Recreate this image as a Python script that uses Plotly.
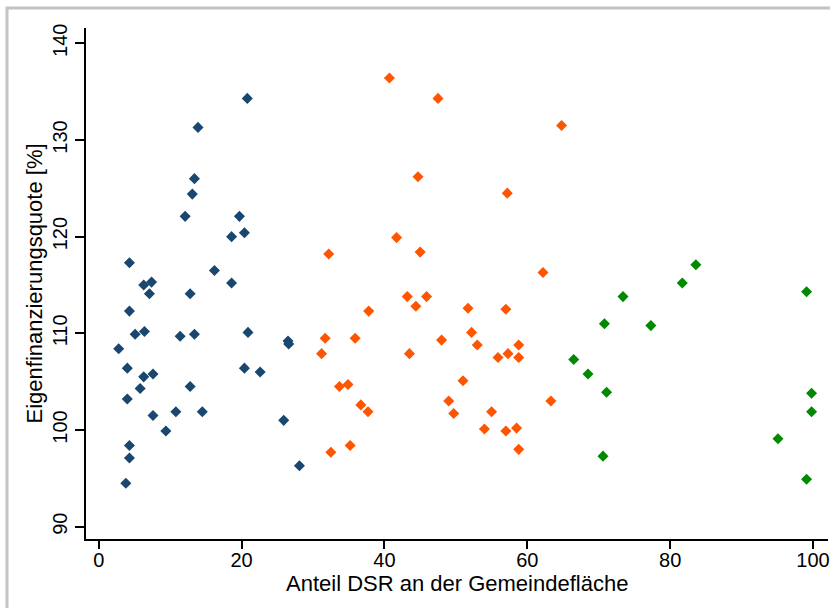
import plotly.graph_objects as go

# ---- data ----
blue_x = [20.8, 13.9, 13.4, 13.1, 12.1, 19.7, 18.6, 20.4, 4.3, 16.2, 6.3, 7.4, 18.6, 7.1, 12.8,
          4.3, 5.1, 6.4, 11.4, 13.4, 20.9, 26.5, 26.6, 2.8, 4.0, 20.4, 22.6, 6.3, 7.6, 5.8,
          12.8, 4.0, 7.6, 10.8, 14.5, 9.4, 25.9, 4.3, 4.3, 28.1, 3.8]
blue_y = [134.3, 131.3, 126.0, 124.4, 122.1, 122.1, 120.0, 120.4, 117.3, 116.5, 115.0, 115.3, 115.2, 114.1, 114.1,
          112.3, 109.9, 110.2, 109.7, 109.9, 110.1, 109.2, 108.9, 108.4, 106.4, 106.4, 106.0, 105.5, 105.8, 104.3,
          104.5, 103.2, 101.5, 101.9, 101.9, 99.9, 101.0, 98.4, 97.1, 96.3, 94.5]

orange_x = [40.7, 47.5, 64.8, 44.7, 57.2, 41.7, 32.2, 45.0, 62.2, 43.2, 45.9, 44.4, 37.8, 51.7, 57.0,
            31.7, 35.9, 48.0, 52.2, 53.0, 58.8, 31.2, 43.5, 55.9, 57.3, 58.8, 51.0, 33.7, 34.9, 36.7,
            37.7, 49.0, 63.3, 49.7, 55.0, 54.0, 57.0, 58.5, 58.8, 32.5, 35.2]
orange_y = [136.4, 134.3, 131.5, 126.2, 124.5, 119.9, 118.2, 118.4, 116.3, 113.8, 113.8, 112.8, 112.3, 112.6, 112.5,
            109.5, 109.5, 109.3, 110.1, 108.8, 108.8, 107.9, 107.9, 107.5, 107.9, 107.5, 105.1, 104.5, 104.7, 102.6,
            101.9, 103.0, 103.0, 101.7, 101.9, 100.1, 99.9, 100.2, 98.0, 97.7, 98.4]

green_x = [83.6, 81.7, 99.1, 73.4, 70.8, 77.3, 66.5, 68.5, 71.1, 99.8, 99.8, 95.1, 70.6, 99.1]
green_y = [117.1, 115.2, 114.3, 113.8, 111.0, 110.8, 107.3, 105.8, 103.9, 103.8, 101.9, 99.1, 97.3, 94.9]

x_ticks = [0, 20, 40, 60, 80, 100]
y_ticks = [90, 100, 110, 120, 130, 140]
x_title = "Anteil DSR an der Gemeindefläche"
y_title = "Eigenfinanzierungsquote [%]"

FONT = "Arial, Liberation Sans, sans-serif"

fig = go.Figure()
for xs, ys, col in [(blue_x, blue_y, "#1a476f"), (orange_x, orange_y, "#ff5500"), (green_x, green_y, "#008a00")]:
    fig.add_trace(go.Scatter(x=xs, y=ys, mode="markers",
                             marker=dict(symbol="diamond", size=8.5, color=col, line=dict(width=0)),
                             showlegend=False, hoverinfo="skip", cliponaxis=False))

fig.update_layout(
    width=830, height=608,
    margin=dict(l=86, r=2, t=28, b=69, autoexpand=False),
    paper_bgcolor="white", plot_bgcolor="white",
    font=dict(family=FONT, color="black"),
    xaxis=dict(range=[-1.78, 102.1], tickvals=x_ticks, ticks="outside", ticklen=8, tickwidth=1.5,
               tickcolor="black", showline=True, linecolor="black", linewidth=1.5, automargin=False,
               ticklabelstandoff=-6,
               showgrid=False, zeroline=False, tickfont=dict(size=20, family=FONT, color="black")),
    yaxis=dict(range=[88.73, 141.58], tickvals=y_ticks, ticks="outside", ticklen=9, tickwidth=1.5,
               tickcolor="black", showline=True, linecolor="black", linewidth=1.5, tickangle=-90,
               automargin=False,
               showgrid=False, zeroline=False, tickfont=dict(size=20, family=FONT, color="black")),
)

fig.add_annotation(text=x_title, xref="paper", yref="paper", x=0.5, y=0, yshift=-44,
                   xanchor="center", yanchor="middle", showarrow=False,
                   font=dict(size=22, family=FONT, color="black"))
fig.add_annotation(text=y_title, xref="paper", yref="paper", x=0, y=0.5, xshift=-52,
                   xanchor="center", yanchor="middle", textangle=-90, showarrow=False,
                   font=dict(size=22, family=FONT, color="black"))

# outer light-grey frame (left and top edges visible)
fig.add_shape(type="rect", xref="paper", yref="paper",
              x0=(7 - 86) / 742, x1=1.3, y0=-0.4, y1=(539 - 8) / 511,
              line=dict(color="#c4c4c4", width=3), fillcolor="rgba(0,0,0,0)", layer="below")

fig.write_html("out.html", config={"displayModeBar": False},
               post_script="document.body.style.margin='0px';")
